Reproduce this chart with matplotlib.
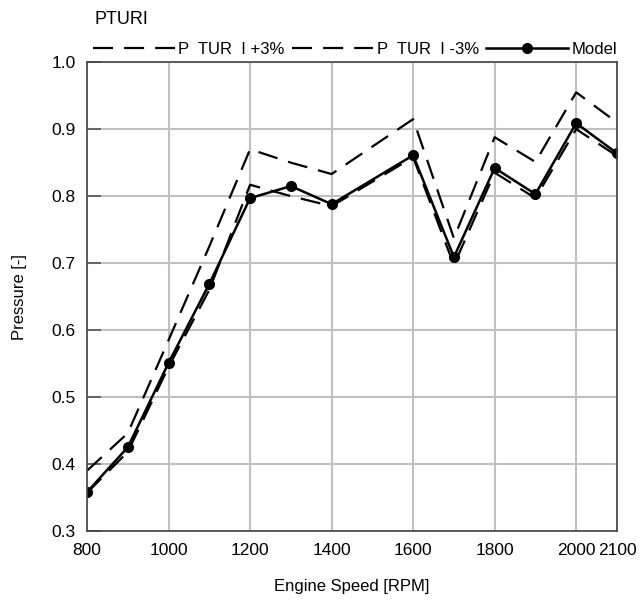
import matplotlib
matplotlib.use("Agg")
import matplotlib.pyplot as plt

rpm = [800, 900, 1000, 1100, 1200, 1300, 1400, 1600, 1700, 1800, 1900, 2000, 2100]
model = [0.358, 0.425, 0.551, 0.669, 0.797, 0.815, 0.788, 0.861, 0.709, 0.842, 0.803, 0.909, 0.864]
plus3 = [0.390, 0.446, 0.585, 0.725, 0.870, 0.850, 0.833, 0.915, 0.737, 0.888, 0.851, 0.955, 0.910]
minus3 = [0.357, 0.418, 0.545, 0.660, 0.817, 0.800, 0.785, 0.858, 0.697, 0.835, 0.797, 0.900, 0.860]

xticks = [800, 1000, 1200, 1400, 1600, 1800, 2000, 2100]
yticks = [0.3, 0.4, 0.5, 0.6, 0.7, 0.8, 0.9, 1.0]

plt.rcParams['font.family'] = ['Liberation Sans', 'DejaVu Sans']

fig = plt.figure(figsize=(6.4, 6.04), dpi=100)
ax = fig.add_axes([0.136, 0.121, 0.828, 0.776])

ax.plot(rpm, plus3, color='black', lw=1.6, dashes=(9, 5), label='P  TUR  I +3%')
ax.plot(rpm, minus3, color='black', lw=1.6, dashes=(9, 5), label='P  TUR  I -3%')
ax.plot(rpm, model, color='black', lw=1.8, marker='o', ms=7, label='Model')

ax.set_xlim(800, 2100)
ax.set_ylim(0.3, 1.0)
ax.set_xticks(xticks)
ax.set_yticks(yticks)
ax.set_yticklabels(['%.1f' % v for v in yticks])
ax.grid(True, color='#c0c0c0', lw=1.5)
ax.set_axisbelow(True)
ax.tick_params(axis='x', length=0, labelsize=12.5, pad=9)
ax.tick_params(axis='y', direction='in', length=10, width=1.2, color='#555555', labelsize=12.5, pad=8)
for s in ax.spines.values():
    s.set_color('#444444')
    s.set_linewidth(1.2)

ax.set_xlabel('Engine Speed [RPM]', fontsize=12, labelpad=15)
ax.set_ylabel('Pressure [-]', fontsize=12, labelpad=18)
fig.text(0.147, 0.967, 'PTURI', fontsize=13, ha='left', va='center')

ax.legend(loc='lower left', bbox_to_anchor=(0.011, 1.012), ncol=3, frameon=False,
          fontsize=12, handlelength=4.9, handletextpad=0.2, columnspacing=0.45,
          borderaxespad=0, borderpad=0)

fig.savefig('out.png', dpi=100)
